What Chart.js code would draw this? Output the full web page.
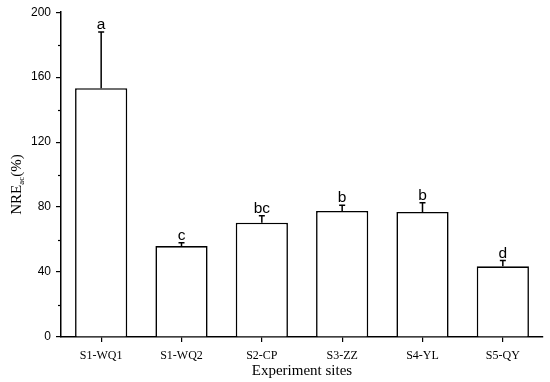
<!DOCTYPE html>
<html>
<head>
<meta charset="utf-8">
<script src="https://cdn.jsdelivr.net/npm/chart.js@4/dist/chart.umd.min.js"></script>
<style>
html,body{margin:0;padding:0;background:#fff;}
#wrap{width:550px;height:382px;position:relative;}
canvas{background:#fff;}
</style>
</head>
<body>
<div id="wrap"><canvas id="c" width="550" height="382"></canvas></div>
<script>
const sites = ['S1-WQ1','S1-WQ2','S2-CP','S3-ZZ','S4-YL','S5-QY'];
const means = [153.2, 56, 70.4, 77.6, 77, 43.5];
const errors = [34.6, 2, 4.2, 3.6, 5.6, 3.6];
const letters = ['a','c','bc','b','b','d'];
const yMin = 0, yMax = 200, yMajorStep = 40, yMinorStep = 20;

const serif = '"Liberation Serif", "Times New Roman", serif';
const sans = '"Liberation Sans", Arial, sans-serif';

const extras = {
  id: 'extras',
  afterDatasetsDraw(chart) {
    const ctx = chart.ctx;
    const y = chart.scales.y;
    const meta = chart.getDatasetMeta(0);
    ctx.save();
    ctx.strokeStyle = '#000';
    ctx.fillStyle = '#000';
    ctx.lineWidth = 1.5;
    meta.data.forEach((bar, i) => {
      const cx = bar.x;
      const yTop = y.getPixelForValue(means[i]);
      const yErr = y.getPixelForValue(means[i] + errors[i]);
      ctx.beginPath();
      ctx.moveTo(cx, yTop);
      ctx.lineTo(cx, yErr);
      ctx.moveTo(cx - 3, yErr);
      ctx.lineTo(cx + 3, yErr);
      ctx.stroke();
      ctx.font = '15.5px ' + sans;
      ctx.textAlign = 'center';
      ctx.textBaseline = 'alphabetic';
      ctx.fillText(letters[i], cx, yErr - 3);
    });
    // minor ticks on y axis
    ctx.lineWidth = 1.2;
    for (let v = yMin; v <= yMax; v += yMinorStep) {
      if (v % yMajorStep === 0) continue;
      const py = Math.round(y.getPixelForValue(v)) + 0.5;
      ctx.beginPath();
      ctx.moveTo(y.right, py);
      ctx.lineTo(y.right - 3, py);
      ctx.stroke();
    }
    // y title with subscript
    ctx.save();
    const cy = (y.top + y.bottom) / 2 + 10;
    ctx.translate(21, cy);
    ctx.rotate(-Math.PI / 2);
    ctx.textBaseline = 'alphabetic';
    ctx.textAlign = 'left';
    const big = '15px ' + serif, small = '9px ' + serif;
    ctx.font = big; const w1 = ctx.measureText('NRE').width;
    ctx.font = small; const w2 = ctx.measureText('ac').width;
    ctx.font = big; const w3 = ctx.measureText('(%)').width;
    let sx = -(w1 + w2 + w3) / 2;
    ctx.font = big; ctx.fillText('NRE', sx, 0); sx += w1;
    ctx.font = small; ctx.fillText('ac', sx, 3); sx += w2;
    ctx.font = big; ctx.fillText('(%)', sx, 0);
    ctx.restore();
    ctx.restore();
  }
};

new Chart(document.getElementById('c'), {
  type: 'bar',
  data: {
    labels: sites,
    datasets: [{
      data: means,
      backgroundColor: '#fff',
      borderColor: '#000',
      borderWidth: 1.6,
      barPercentage: 0.65,
      categoryPercentage: 1.0
    }]
  },
  options: {
    responsive: false,
    animation: false,
    devicePixelRatio: 1,
    layout: { padding: { top: 10, right: 7, left: 0, bottom: 0 } },
    plugins: { legend: { display: false }, tooltip: { enabled: false } },
    scales: {
      x: {
        afterFit(s) { s.height = 45; },
        border: { color: '#000', width: 1.5 },
        grid: { display: true, drawOnChartArea: false, offset: false, tickLength: 5, color: '#000', lineWidth: 1.2 },
        ticks: { color: '#000', font: { family: serif, size: 12 }, padding: 7, maxRotation: 0 },
        title: { display: true, text: 'Experiment sites', color: '#000', font: { family: serif, size: 15 }, padding: { top: 0, bottom: 2 } }
      },
      y: {
        min: yMin, max: yMax,
        afterFit(s) { s.width = 61; },
        border: { color: '#000', width: 1.5 },
        grid: { display: true, drawOnChartArea: false, tickLength: 5, color: '#000', lineWidth: 1.2 },
        ticks: { stepSize: yMajorStep, color: '#000', font: { family: sans, size: 12 }, padding: 5 }
      }
    }
  },
  plugins: [extras]
});
</script>
</body>
</html>
